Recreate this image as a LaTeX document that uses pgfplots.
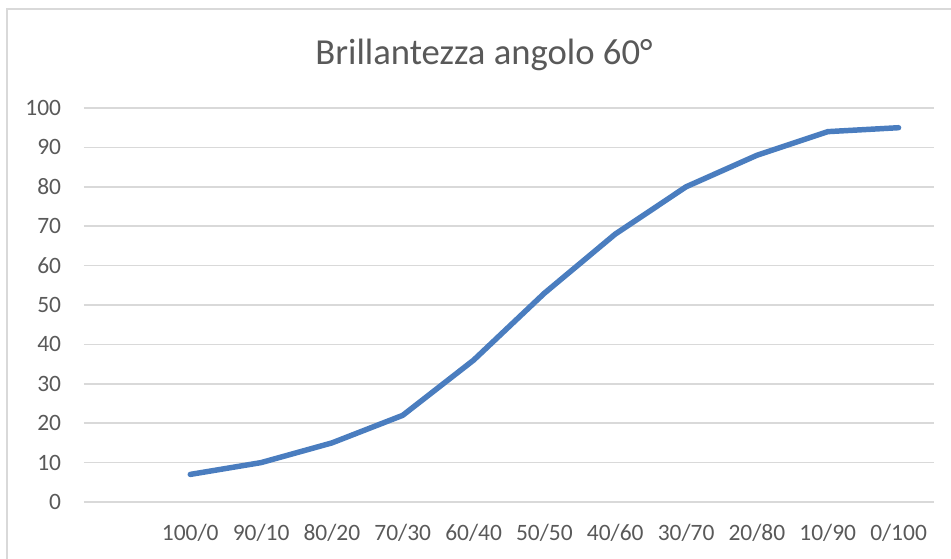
\documentclass[border=0pt]{standalone}
\usepackage{pgfplots}
\pgfplotsset{compat=1.18}
\usepackage{fontspec}
\setmainfont{Carlito}
\definecolor{txt}{HTML}{595959}
\definecolor{grd}{HTML}{D9D9D9}
\definecolor{ln}{HTML}{4A7DBF}
\definecolor{frm}{HTML}{D9D9D9}
\begin{document}
\begin{tikzpicture}
\useasboundingbox (0,0) rectangle (713.25pt,418.5pt);
\begin{scope}
\clip (0,0) rectangle (713.25pt,418.5pt);
\draw[frm, line width=1.5pt] (5.25pt,-20pt) rectangle (740pt,411.75pt);
\end{scope}
\node[anchor=base, text=txt, font=\fontsize{27.5}{32}\selectfont, inner sep=0pt] at (363pt,369.75pt) {Brillantezza angolo 60°};
\begin{axis}[
  at={(63pt,42pt)}, anchor=south west,
  scale only axis,
  width=637.5pt, height=295.5pt,
  xmin=-0.5, xmax=11.5, ymin=0, ymax=100,
  xtick={1,2,3,4,5,6,7,8,9,10,11},
  xticklabels={100/0,90/10,80/20,70/30,60/40,50/50,40/60,30/70,20/80,10/90,0/100},
  ytick={0,10,20,30,40,50,60,70,80,90,100},
  axis line style={draw=none},
  major tick style={draw=none},
  ymajorgrids,
  grid style={grd, line width=1.1pt},
  /pgf/number format/assume math mode=true,
  tick label style={text=txt, font=\fontsize{17.6}{20}\selectfont, inner sep=0pt},
  yticklabel style={anchor=east, xshift=-17pt},
  xticklabel style={anchor=base, yshift=-28.5pt},
  clip=false,
]
\addplot[ln, line width=4.1pt, line cap=round, line join=round] coordinates {
(1,7) (2,10) (3,15) (4,22) (5,36) (6,53) (7,68) (8,80) (9,88) (10,94) (11,95)
};
\end{axis}
\end{tikzpicture}
\end{document}
